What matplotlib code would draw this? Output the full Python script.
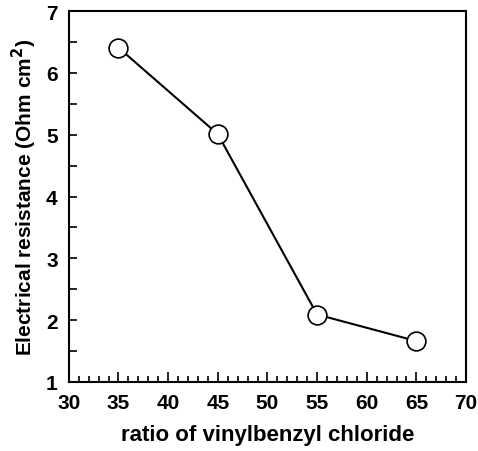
import matplotlib
matplotlib.use("Agg")
import matplotlib.pyplot as plt
from matplotlib.ticker import MultipleLocator

# data
vbc_ratio = [35, 45, 55, 65]
resistance = [6.41, 5.01, 2.09, 1.66]

plt.rcParams['font.family'] = ['Liberation Sans', 'DejaVu Sans']
plt.rcParams['font.weight'] = 'bold'

fig = plt.figure(figsize=(4.78, 4.52), dpi=100)
ax = fig.add_axes([0.144, 0.153, 0.831, 0.82])

ax.plot(vbc_ratio, resistance, color='black', lw=1.5, marker='o', ms=13.5,
        mfc='white', mec='black', mew=1.2)

ax.set_xlim(30, 70)
ax.set_ylim(1, 7)
ax.xaxis.set_major_locator(MultipleLocator(5))
ax.xaxis.set_minor_locator(MultipleLocator(1))
ax.yaxis.set_major_locator(MultipleLocator(1))
ax.yaxis.set_minor_locator(MultipleLocator(0.5))

ax.tick_params(which='both', direction='in', top=False, right=False, width=1.2, labelsize=15)
ax.tick_params(axis='x', which='both', pad=8)
ax.tick_params(axis='y', which='both', pad=8)
ax.tick_params(axis='x', which='major', length=7)
ax.tick_params(axis='x', which='minor', length=4)
ax.tick_params(axis='y', which='both', length=6)

for s in ax.spines.values():
    s.set_linewidth(1.5)

for lbl in ax.get_xticklabels() + ax.get_yticklabels():
    lbl.set_fontweight('bold')

ax.set_xlabel('ratio of vinylbenzyl chloride', fontsize=16, fontweight='bold', labelpad=9)
ax.set_ylabel('Electrical resistance (Ohm cm$^\\mathbf{2}$)', fontsize=15, fontweight='bold', labelpad=5)

fig.savefig('out.png', dpi=100)
